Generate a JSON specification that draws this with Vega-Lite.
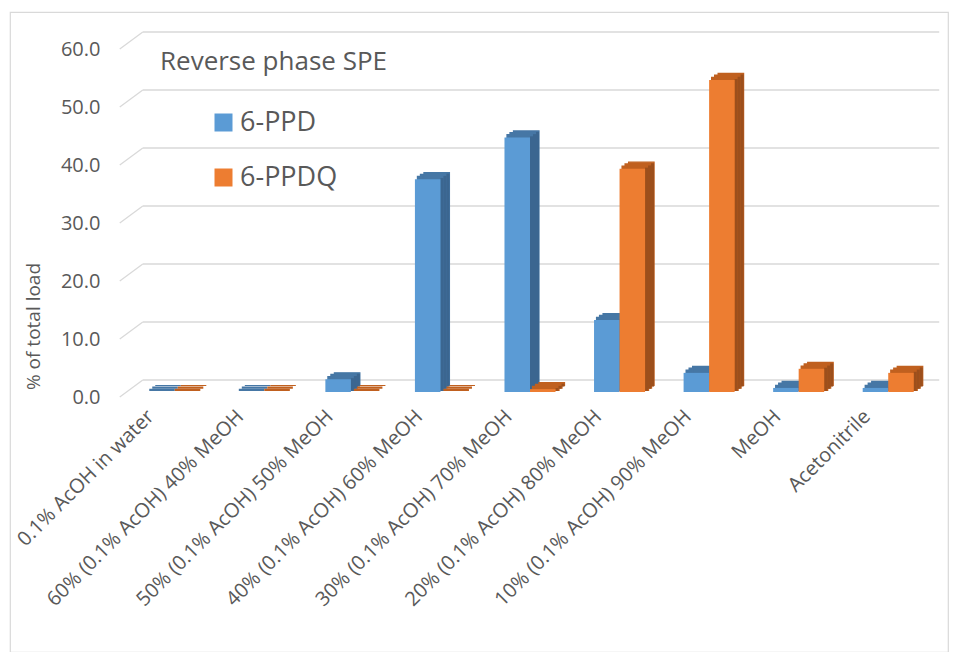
{
  "$schema": "https://vega.github.io/schema/vega-lite/v6.json",
  "width": 938,
  "height": 640,
  "autosize": "none",
  "padding": {"left": 10, "top": 12, "right": 10, "bottom": 0},
  "background": "white",
  "config": {
    "font": "Open Sans",
    "view": {"stroke": "#d9d9d9", "strokeWidth": 1.2},
    "axisX": {"offset": -260, "domain": false, "ticks": false, "grid": false, "labelAngle": -45, "labelAlign": "right", "labelBaseline": "middle", "labelPadding": 21, "labelOffset": -21, "labelFontSize": 20, "labelColor": "#595959", "labelLimit": 400},
    "axisY": {"offset": -117, "domain": false, "ticks": false, "grid": false, "labelPadding": 27, "labelOffset": 5, "labelFontSize": 20, "labelColor": "#595959", "titleX": -94, "titleY": 314, "titleFontSize": 19, "titleColor": "#595959", "titleFontWeight": "normal", "titleBaseline": "middle", "titleAlign": "center", "titleAngle": -90}
  },
  "datasets": {
    "bars": [
      {"fraction": "0.1% AcOH in water", "compound": "6-PPD", "pct": 0},
      {"fraction": "0.1% AcOH in water", "compound": "6-PPDQ", "pct": 0},
      {"fraction": "60% (0.1% AcOH) 40% MeOH", "compound": "6-PPD", "pct": 0},
      {"fraction": "60% (0.1% AcOH) 40% MeOH", "compound": "6-PPDQ", "pct": 0},
      {"fraction": "50% (0.1% AcOH) 50% MeOH", "compound": "6-PPD", "pct": 2.2},
      {"fraction": "50% (0.1% AcOH) 50% MeOH", "compound": "6-PPDQ", "pct": 0},
      {"fraction": "40% (0.1% AcOH) 60% MeOH", "compound": "6-PPD", "pct": 36.7},
      {"fraction": "40% (0.1% AcOH) 60% MeOH", "compound": "6-PPDQ", "pct": 0},
      {"fraction": "30% (0.1% AcOH) 70% MeOH", "compound": "6-PPD", "pct": 43.9},
      {"fraction": "30% (0.1% AcOH) 70% MeOH", "compound": "6-PPDQ", "pct": 0.5},
      {"fraction": "20% (0.1% AcOH) 80% MeOH", "compound": "6-PPD", "pct": 12.4},
      {"fraction": "20% (0.1% AcOH) 80% MeOH", "compound": "6-PPDQ", "pct": 38.5},
      {"fraction": "10% (0.1% AcOH) 90% MeOH", "compound": "6-PPD", "pct": 3.3},
      {"fraction": "10% (0.1% AcOH) 90% MeOH", "compound": "6-PPDQ", "pct": 53.8},
      {"fraction": "MeOH", "compound": "6-PPD", "pct": 0.7},
      {"fraction": "MeOH", "compound": "6-PPDQ", "pct": 4.0},
      {"fraction": "Acetonitrile", "compound": "6-PPD", "pct": 0.7},
      {"fraction": "Acetonitrile", "compound": "6-PPDQ", "pct": 3.3}
    ],
    "grid": [{"v": 0}, {"v": 10}, {"v": 20}, {"v": 30}, {"v": 40}, {"v": 50}, {"v": 60}]
  },
  "encoding": {
    "x": {"field": "fraction", "type": "nominal", "title": null,
          "scale": {"domain": ["0.1% AcOH in water", "60% (0.1% AcOH) 40% MeOH", "50% (0.1% AcOH) 50% MeOH", "40% (0.1% AcOH) 60% MeOH", "30% (0.1% AcOH) 70% MeOH", "20% (0.1% AcOH) 80% MeOH", "10% (0.1% AcOH) 90% MeOH", "MeOH", "Acetonitrile"],
                    "range": [117, 923], "paddingInner": 0.43, "paddingOuter": 0.215}},
    "y": {"field": "pct", "type": "quantitative", "title": "% of total load",
          "scale": {"domain": [0, 60], "range": [380, 32], "nice": false, "zero": true},
          "axis": {"values": [0, 10, 20, 30, 40, 50, 60], "format": ".1f"}}
  },
  "layer": [
    {
      "data": {"name": "grid"},
      "mark": {"type": "rule", "color": "#d9d9d9", "strokeWidth": 1.3, "xOffset": -29, "x2Offset": 51, "yOffset": -12},
      "encoding": {
        "x": {"datum": "0.1% AcOH in water", "type": "nominal", "title": null},
        "x2": {"datum": "Acetonitrile"},
        "y": {"field": "v", "type": "quantitative", "title": "% of total load", "axis": {"values": [0, 10, 20, 30, 40, 50, 60], "format": ".1f"}}
      }
    },
    {
      "data": {"name": "grid"},
      "mark": {"type": "rule", "color": "#d9d9d9", "strokeWidth": 1.3, "xOffset": -52, "x2Offset": -29, "yOffset": 5, "y2Offset": -12},
      "encoding": {
        "x": {"datum": "0.1% AcOH in water", "type": "nominal", "title": null},
        "x2": {"datum": "0.1% AcOH in water"},
        "y": {"field": "v", "type": "quantitative", "title": "% of total load", "axis": {"values": [0, 10, 20, 30, 40, 50, 60], "format": ".1f"}},
        "y2": {"field": "v"}
      }
    },
    {"data": {"name": "bars"}, "transform": [{"filter": "datum.compound === '6-PPD'"}],
     "mark": {"type": "bar", "width": {"band": 0.5}, "color": "#4677A5", "stroke": "#4677A5", "strokeWidth": 2.2, "xOffset": -9.76, "x2Offset": -9.76, "yOffset": -2.17, "y2Offset": -2.17}},
    {"data": {"name": "bars"}, "transform": [{"filter": "datum.compound === '6-PPD'"}],
     "mark": {"type": "bar", "width": {"band": 0.5}, "color": "#4677A5", "stroke": "#4677A5", "strokeWidth": 2.2, "xOffset": -6.76, "x2Offset": -6.76, "yOffset": -4.34, "y2Offset": -4.34}},
    {"data": {"name": "bars"}, "transform": [{"filter": "datum.compound === '6-PPD'"}],
     "mark": {"type": "bar", "width": {"band": 0.5}, "color": "#4677A5", "stroke": "#4677A5", "strokeWidth": 1.2, "xOffset": -3.76, "x2Offset": -3.76, "yOffset": -6.5, "y2Offset": -6.5}},
    {"data": {"name": "bars"}, "transform": [{"filter": "datum.compound === '6-PPD'"}],
     "mark": {"type": "bar", "width": 3, "color": "#3B6690", "xOffset": 1.5, "x2Offset": 1.5, "yOffset": -1.08, "y2Offset": -1.08}},
    {"data": {"name": "bars"}, "transform": [{"filter": "datum.compound === '6-PPD'"}],
     "mark": {"type": "bar", "width": 3, "color": "#3B6690", "xOffset": 4.5, "x2Offset": 4.5, "yOffset": -3.25, "y2Offset": -3.25}},
    {"data": {"name": "bars"}, "transform": [{"filter": "datum.compound === '6-PPD'"}],
     "mark": {"type": "bar", "width": 3, "color": "#3B6690", "xOffset": 7.5, "x2Offset": 7.5, "yOffset": -5.42, "y2Offset": -5.42}},
    {"data": {"name": "bars"}, "transform": [{"filter": "datum.compound === '6-PPD'"}],
     "mark": {"type": "bar", "width": {"band": 0.5}, "xOffset": -12.76, "x2Offset": -12.76},
     "encoding": {"color": {"field": "compound", "type": "nominal",
        "scale": {"domain": ["6-PPD", "6-PPDQ"], "range": ["#5B9BD5", "#ED7D31"]},
        "legend": {"orient": "none", "legendX": 150, "legendY": 37, "title": "Reverse phase SPE", "titleLimit": 500, "titleFontSize": 26, "titleFontWeight": "normal", "titleColor": "#595959", "titlePadding": 34, "labelFontSize": 27, "labelColor": "#595959", "symbolType": "square", "symbolSize": 324, "symbolStrokeWidth": 0, "symbolOffset": 50, "rowPadding": 27, "labelOffset": 3}}}},
    {"data": {"name": "bars"}, "transform": [{"filter": "datum.compound === '6-PPDQ'"}],
     "mark": {"type": "bar", "width": {"band": 0.5}, "color": "#C0601F", "stroke": "#C0601F", "strokeWidth": 2.2, "xOffset": 15.76, "x2Offset": 15.76, "yOffset": -2.17, "y2Offset": -2.17}},
    {"data": {"name": "bars"}, "transform": [{"filter": "datum.compound === '6-PPDQ'"}],
     "mark": {"type": "bar", "width": {"band": 0.5}, "color": "#C0601F", "stroke": "#C0601F", "strokeWidth": 2.2, "xOffset": 18.76, "x2Offset": 18.76, "yOffset": -4.34, "y2Offset": -4.34}},
    {"data": {"name": "bars"}, "transform": [{"filter": "datum.compound === '6-PPDQ'"}],
     "mark": {"type": "bar", "width": {"band": 0.5}, "color": "#C0601F", "stroke": "#C0601F", "strokeWidth": 1.2, "xOffset": 21.76, "x2Offset": 21.76, "yOffset": -6.5, "y2Offset": -6.5}},
    {"data": {"name": "bars"}, "transform": [{"filter": "datum.compound === '6-PPDQ'"}],
     "mark": {"type": "bar", "width": 3, "color": "#9C4F1C", "xOffset": 27.02, "x2Offset": 27.02, "yOffset": -1.08, "y2Offset": -1.08}},
    {"data": {"name": "bars"}, "transform": [{"filter": "datum.compound === '6-PPDQ'"}],
     "mark": {"type": "bar", "width": 3, "color": "#9C4F1C", "xOffset": 30.02, "x2Offset": 30.02, "yOffset": -3.25, "y2Offset": -3.25}},
    {"data": {"name": "bars"}, "transform": [{"filter": "datum.compound === '6-PPDQ'"}],
     "mark": {"type": "bar", "width": 3, "color": "#9C4F1C", "xOffset": 33.02, "x2Offset": 33.02, "yOffset": -5.42, "y2Offset": -5.42}},
    {"data": {"name": "bars"}, "transform": [{"filter": "datum.compound === '6-PPDQ'"}],
     "mark": {"type": "bar", "width": {"band": 0.5}, "xOffset": 12.76, "x2Offset": 12.76},
     "encoding": {"color": {"field": "compound", "type": "nominal"}}}
  ]
}
